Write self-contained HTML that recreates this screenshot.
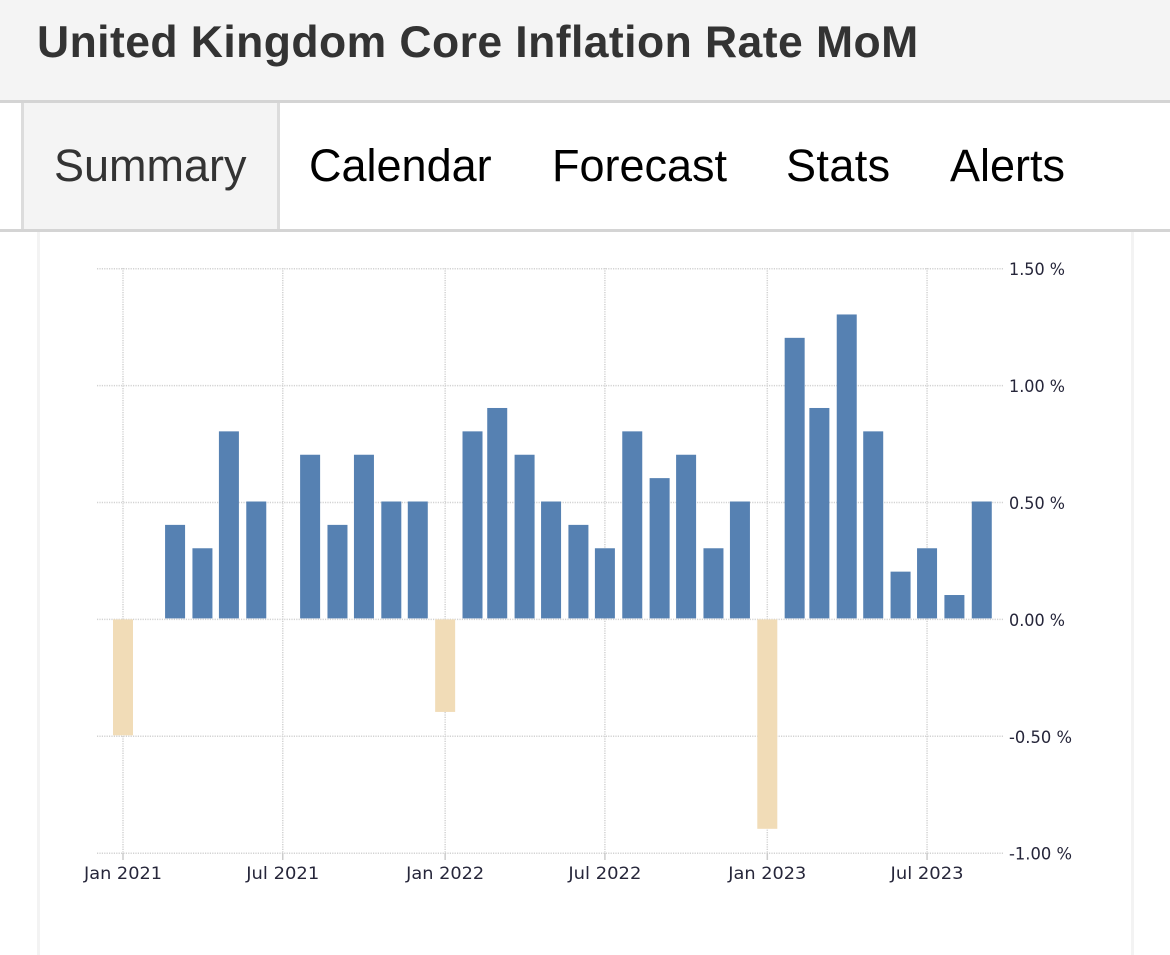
<!DOCTYPE html>
<html lang="en">
<head>
<meta charset="utf-8">
<title>United Kingdom Core Inflation Rate MoM</title>
<style>
html,body{margin:0;padding:0;background:#fff;}
body{width:1170px;height:955px;overflow:hidden;position:relative;font-family:"Liberation Sans",Arial,sans-serif;}
#page-title-bar{position:absolute;left:0;top:0;width:1170px;height:100px;background:#f4f4f4;border-bottom:3px solid #d4d4d4;}
#page-title{position:absolute;left:37px;top:18px;margin:0;font-size:44.5px;letter-spacing:0.43px;line-height:50px;font-weight:700;color:#333;white-space:nowrap;}
#tab-bar{position:absolute;left:0;top:103px;width:1170px;height:126px;background:#fff;border-bottom:3px solid #d4d4d4;}
.tab{position:absolute;top:0;height:126px;line-height:125px;font-size:45px;color:#000;white-space:nowrap;cursor:pointer;}
#tab-summary{left:21px;width:253px;box-sizing:content-box;background:#f4f4f4;border-left:3px solid #dcdcdc;border-right:3px solid #dcdcdc;color:#333;text-indent:30px;}
#panel{position:absolute;left:37px;top:232px;width:1091px;height:723px;border-left:3px solid #f3f3f3;border-right:3px solid #f3f3f3;background:#fff;}
#chart{position:absolute;left:0;top:0;}
#chart text{font-family:"DejaVu Sans",sans-serif;font-size:17px;fill:#26263a;filter:blur(0.3px);}
</style>
</head>
<body>
<div id="page-title-bar">
  <h1 id="page-title">United Kingdom Core Inflation Rate MoM</h1>
</div>
<nav id="tab-bar">
  <a class="tab" id="tab-summary">Summary</a>
  <a class="tab" style="left:309px">Calendar</a>
  <a class="tab" style="left:552px">Forecast</a>
  <a class="tab" style="left:786px;letter-spacing:0.4px">Stats</a>
  <a class="tab" style="left:950px">Alerts</a>
</nav>
<div id="panel"></div>
<svg id="chart" width="1170" height="955" viewBox="0 0 1170 955"></svg>
<script>
const months = ["2021-01","2021-02","2021-03","2021-04","2021-05","2021-06","2021-07","2021-08","2021-09","2021-10","2021-11","2021-12","2022-01","2022-02","2022-03","2022-04","2022-05","2022-06","2022-07","2022-08","2022-09","2022-10","2022-11","2022-12","2023-01","2023-02","2023-03","2023-04","2023-05","2023-06","2023-07","2023-08","2023-09"];
const values = [-0.5,0,0.4,0.3,0.8,0.5,0,0.7,0.4,0.7,0.5,0.5,-0.4,0.8,0.9,0.7,0.5,0.4,0.3,0.8,0.6,0.7,0.3,0.5,-0.9,1.2,0.9,1.3,0.8,0.2,0.3,0.1,0.5];
const yTicks = [1.5,1,0.5,0,-0.5,-1];
const yTickLabels = ["1.50 %","1.00 %","0.50 %","0.00 %","-0.50 %","-1.00 %"];
const xTicks = ["2021-01","2021-07","2022-01","2022-07","2023-01","2023-07"];
const xTickLabels = ["Jan 2021","Jul 2021","Jan 2022","Jul 2022","Jan 2023","Jul 2023"];

const NS = "http://www.w3.org/2000/svg";
const svg = document.getElementById("chart");
const plotLeft = 97, plotRight = 1003, plotTop = 268, plotBottom = 853;
const barWidth = 20;

function xScale(m) {
  const parts = m.split("-");
  const days = (Date.UTC(+parts[0], +parts[1] - 1, 1) - Date.UTC(2021, 0, 1)) / 86400000;
  return 123 + days * 0.8826;
}
function yScale(v) {
  return 619.4 - v * 233.8;
}
function make(tag, attrs) {
  const el = document.createElementNS(NS, tag);
  for (const k in attrs) el.setAttribute(k, attrs[k]);
  svg.appendChild(el);
  return el;
}

yTicks.forEach(function (t, i) {
  const y = yScale(t);
  const line = make("line", {x1: plotLeft, x2: plotRight, y1: y, y2: y, stroke: "#d2d2d2", "stroke-width": 1.5, "stroke-dasharray": "1.2 1.2"});
  
  
  const label = make("text", {x: 1009, y: y + 6.5, textLength: yTickLabels[i].length === 6 ? 56 : 63, lengthAdjust: "spacingAndGlyphs"});
  label.textContent = yTickLabels[i];
  
  
});

xTicks.forEach(function (t, i) {
  const x = xScale(t);
  const line = make("line", {x1: x, x2: x, y1: plotTop, y2: plotBottom, stroke: "#d2d2d2", "stroke-width": 1.5, "stroke-dasharray": "1.2 1.2"});
  
  
  const tick = make("line", {x1: x, x2: x, y1: plotBottom, y2: plotBottom + 7, stroke: "#cccccc", "stroke-width": 1.5});
  
  
  const label = make("text", {x: x, y: 879, "text-anchor": "middle", textLength: xTickLabels[i].indexOf("Jan") === 0 ? 78 : 73, lengthAdjust: "spacingAndGlyphs"});
  label.textContent = xTickLabels[i];
  
  
});

values.forEach(function (v, i) {
  if (v === 0) return;
  const x = xScale(months[i]);
  const y0 = yScale(0), y1 = yScale(v) - 1;
  const top = v > 0 ? y1 : y0;
  const h = v > 0 ? (y0 - 1 - y1) : (y1 - y0);
  const bar = make("rect", {x: x - barWidth / 2, y: top, width: barWidth, height: h, fill: v > 0 ? "#5681b2" : "#f1dcb7"});
  
  
});
</script>
</body>
</html>
